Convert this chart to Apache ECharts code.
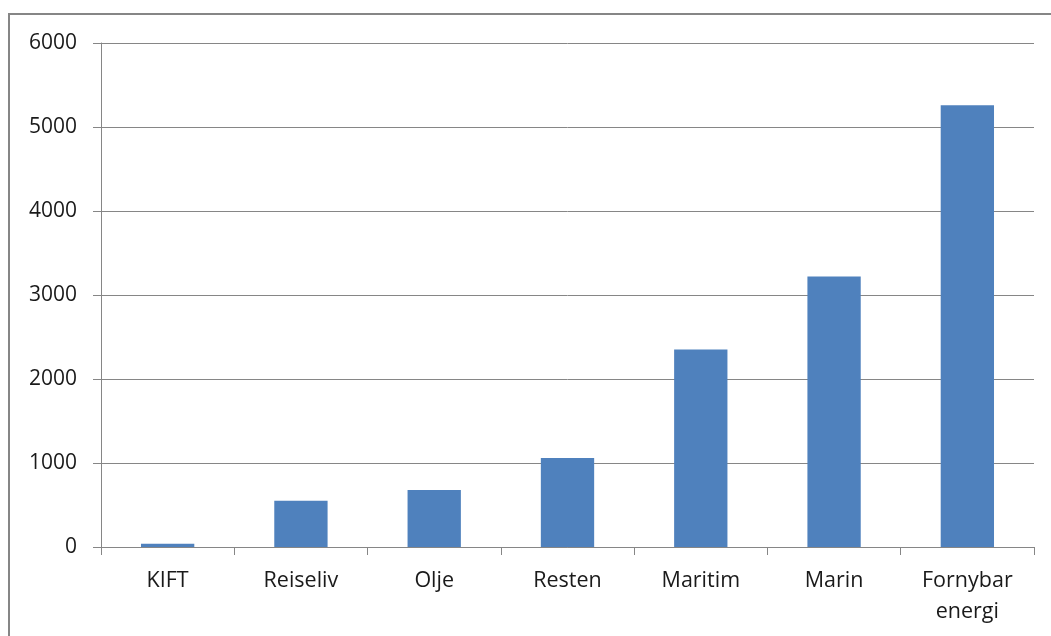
<!DOCTYPE html>
<html>
<head>
<meta charset="utf-8">
<script src="https://cdn.jsdelivr.net/npm/echarts@6/dist/echarts.min.js"></script>
<style>
  html, body { margin: 0; padding: 0; background: #ffffff; }
  #chart { width: 1051px; height: 636px; }
</style>
</head>
<body>
<div id="chart"></div>
<script>
// Sektorer og verdier
const categories = ['KIFT', 'Reiseliv', 'Olje', 'Resten', 'Maritim', 'Marin', 'Fornybar\nenergi'];
const values = [40, 550, 680, 1060, 2350, 3220, 5260];
const yTicks = [0, 1000, 2000, 3000, 4000, 5000, 6000];

const FONT = '"Open Sans", "Noto Sans", sans-serif';
const GRAY = '#868686';
const TEXT = '#1a1a1a';

const chart = echarts.init(document.getElementById('chart'), null, { renderer: 'canvas' });

chart.setOption({
  animation: false,
  backgroundColor: '#ffffff',
  graphic: [{
    type: 'rect',
    shape: { x: 9, y: 14, width: 1100, height: 700 },
    style: { fill: 'none', stroke: GRAY, lineWidth: 2 },
    silent: true
  }],
  grid: { left: 101, right: 17, top: 43, bottom: 89, containLabel: false },
  xAxis: {
    type: 'category',
    data: categories,
    boundaryGap: true,
    axisLine: { show: true, lineStyle: { color: GRAY, width: 1 } },
    axisTick: { show: true, length: 8, alignWithLabel: false, lineStyle: { color: GRAY } },
    axisLabel: {
      interval: 0,
      margin: 18,
      color: TEXT,
      fontFamily: FONT,
      fontSize: 21.5,
      lineHeight: 31
    },
    splitLine: { show: false }
  },
  yAxis: {
    type: 'value',
    min: yTicks[0],
    max: yTicks[yTicks.length - 1],
    interval: yTicks[1] - yTicks[0],
    axisLine: { show: true, lineStyle: { color: GRAY, width: 1 } },
    axisTick: { show: true, length: 8, lineStyle: { color: GRAY } },
    axisLabel: {
      margin: 24,
      color: TEXT,
      fontFamily: FONT,
      fontSize: 21,
      formatter: (v) => String(v)
    },
    splitLine: { show: true, lineStyle: { color: GRAY, width: 1 } }
  },
  series: [{
    type: 'bar',
    data: values,
    barCategoryGap: '60%',
    itemStyle: { color: '#4F81BD' }
  }]
});
</script>
</body>
</html>
